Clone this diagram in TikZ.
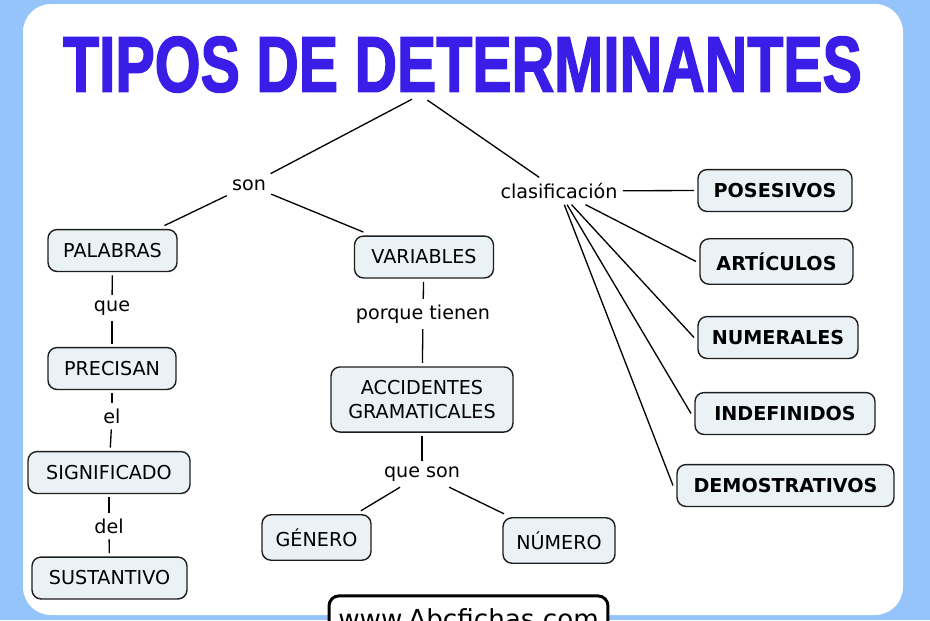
\documentclass[tikz,border=0pt]{standalone}
\usepackage{fontspec}
\usepackage{graphicx}
\setmainfont{DejaVu Sans}
\newfontfamily\titlefont[BoldFeatures={FakeBold=2.2}]{Liberation Sans}
\definecolor{fondo}{RGB}{148,196,250}
\definecolor{titulo}{RGB}{58,30,232}
\definecolor{caja}{RGB}{235,242,246}
\definecolor{borde}{RGB}{30,30,30}

\begin{document}
\begin{tikzpicture}[x=0.02cm, y=-0.02cm,
  concepto/.style={draw=borde, fill=caja, line width=0.8pt, rounded corners=0.18cm,
    inner xsep=0pt, inner ysep=7.8pt, outer sep=0.08cm, align=center,
    font=\fontsize{10.9}{13.2}\selectfont},
  tipo/.style={concepto, font=\fontsize{10.9}{13.2}\selectfont\bfseries},
  enlace/.style={inner xsep=0.1cm, inner ysep=0.11cm, font=\fontsize{10.9}{13.2}\selectfont},
  linea/.style={draw=black, line width=0.75pt},
  marca/.style={draw=black, fill=white, line width=1.7pt, rounded corners=0.2cm,
    inner xsep=0pt, inner ysep=0.26cm, minimum width=5.58cm, font=\fontsize{14.9}{16}\selectfont}]
\useasboundingbox (0,0) rectangle (930,620);
\clip (0,0) rectangle (930,620);
\fill [fondo] (0,0) rectangle (930,620);
\fill [white, rounded corners=0.56cm] (23,4) rectangle (903,615);

\node (T) at (462.5,64.5) [inner sep=0, text=titulo]
  {\resizebox{15.98cm}{1.1cm}{\titlefont\bfseries TIPOS DE DETERMINANTES}};
\coordinate (R) at (420,95);

\node (Son) at (249,185) [enlace] {son};
\node (Cla) at (559,191) [enlace] {clasificación};

\node (Pal) at (112.5,250.5) [concepto, minimum width=2.58cm] {PALABRAS};
\node (Que) at (112,308) [enlace] {que};
\node (Pre) at (112,368.5) [concepto, minimum width=2.56cm] {PRECISAN};
\node (El) at (112,416) [enlace] {el};
\node (Sig) at (109,472.5) [concepto, minimum width=3.24cm] {SIGNIFICADO};
\node (Del) at (109,526) [enlace] {del};
\node (Sus) at (109.5,578) [concepto, minimum width=3.1cm] {SUSTANTIVO};

\node (Var) at (424,257) [concepto, minimum width=2.78cm] {VARIABLES};
\node (Por) at (423,314) [enlace] {porque tienen};
\node (Acc) at (422,399.5) [concepto, minimum width=3.64cm] {ACCIDENTES\\GRAMATICALES};
\node (QS) at (422,474) [enlace] {que son};
\node (Gen) at (316.5,537.5) [concepto, minimum width=2.18cm] {GÉNERO};
\node (Num) at (559,540.5) [concepto, minimum width=2.24cm] {NÚMERO};

\node (Pos) at (775,190.5) [tipo, minimum width=3.08cm] {POSESIVOS};
\node (Art) at (776.5,261.5) [tipo, minimum width=3.06cm] {ARTÍCULOS};
\node (Nu) at (778,337.5) [tipo, minimum width=3.2cm] {NUMERALES};
\node (Ind) at (785,413.5) [tipo, minimum width=3.6cm] {INDEFINIDOS};
\node (Dem) at (785.5,485.5) [tipo, minimum width=4.34cm] {DEMOSTRATIVOS};

\node (W) at (468.5,619) [marca] {www.Abcfichas.com};

\draw [linea, shorten <=0.18cm] (R) -- (Son);
\draw [linea, shorten <=0.18cm] (R) -- (Cla);
\draw [linea] (Son) -- (Pal);
\draw [linea] (Son) -- (Var);
\draw [linea] (Pal) -- (Que);
\draw [linea] (Que) -- (Pre);
\draw [linea] (Pre) -- (El);
\draw [linea] (El) -- (Sig);
\draw [linea] (Sig) -- (Del);
\draw [linea] (Del) -- (Sus);
\draw [linea] (Var) -- (Por);
\draw [linea] (Por) -- (Acc);
\draw [linea] (Acc) -- (QS);
\draw [linea] (QS) -- (Gen);
\draw [linea] (QS) -- (Num);
\draw [linea] (Cla) -- (Pos.west);
\draw [linea] (Cla) -- (Art.west);
\draw [linea] (Cla) -- (Nu.west);
\draw [linea] (Cla) -- (Ind.west);
\draw [linea] (Cla) -- (Dem.west);
\end{tikzpicture}
\end{document}
